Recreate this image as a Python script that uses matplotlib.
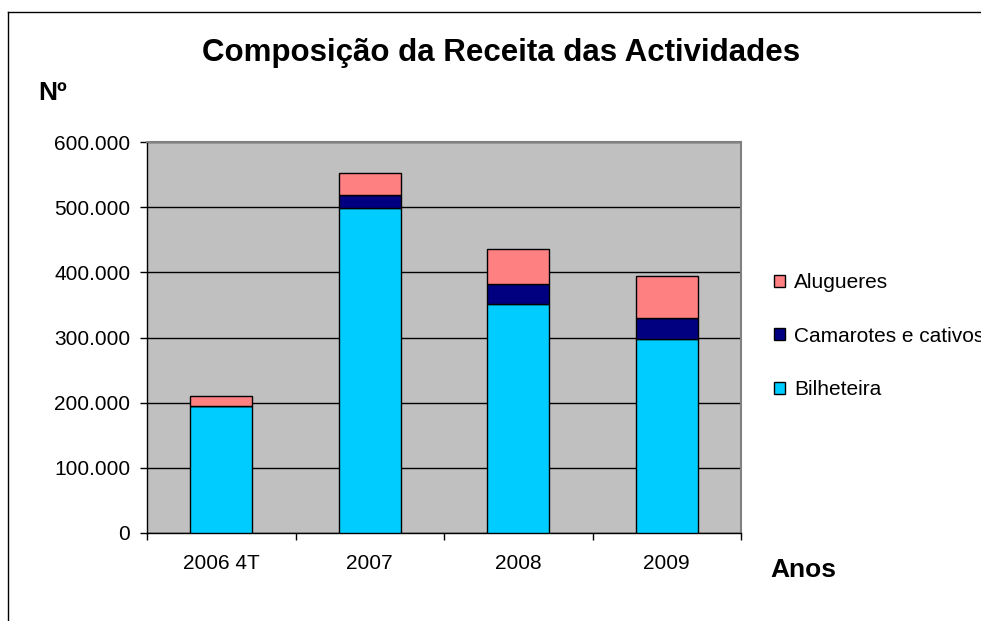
import matplotlib
matplotlib.use("Agg")
import matplotlib.pyplot as plt
from matplotlib.ticker import FuncFormatter, FixedLocator
from matplotlib.lines import Line2D
from matplotlib.patches import Patch
import numpy as np

plt.rcParams['font.family'] = ['Liberation Sans', 'DejaVu Sans']

categories = ["2006 4T", "2007", "2008", "2009"]
bilheteira = [195000, 498000, 351000, 297000]
camarotes = [0, 21000, 30500, 33000]
alugueres = [15000, 33000, 54000, 64000]
series_names = ["Bilheteira", "Camarotes e cativos", "Alugueres"]
colors = ["#00CCFF", "#000080", "#FF8080"]
yticks = [0, 100000, 200000, 300000, 400000, 500000, 600000]

W, H = 981, 621
fig = plt.figure(figsize=(W / 100, H / 100), dpi=100)
fig.patch.set_facecolor("white")

ax = fig.add_axes([147 / W, (H - 533) / H, 594 / W, 391 / H])
ax.set_facecolor("#C0C0C0")

x = np.arange(len(categories))
b = np.array(bilheteira)
c = np.array(camarotes)
a = np.array(alugueres)
bw = 0.42
ax.bar(x, b, bw, color=colors[0], edgecolor="black", linewidth=1, zorder=3)
ax.bar(x, c, bw, bottom=b, color=colors[1], edgecolor="black", linewidth=1, zorder=3)
ax.bar(x, a, bw, bottom=b + c, color=colors[2], edgecolor="black", linewidth=1, zorder=3)

ax.set_xlim(-0.5, len(categories) - 0.5)
ax.set_ylim(0, 600000)
ax.yaxis.set_major_locator(FixedLocator(yticks))
ax.yaxis.set_major_formatter(FuncFormatter(lambda v, p: f"{int(v):,}".replace(",", ".")))
ax.grid(axis="y", color="black", linewidth=1, zorder=1)
ax.set_axisbelow(True)

ax.set_xticks(x)
ax.set_xticklabels(categories)
ax.set_xticks(np.arange(-0.5, len(categories)), minor=True)
ax.tick_params(axis="x", which="major", length=0, pad=15, labelsize=15)
ax.tick_params(axis="x", which="minor", length=5, direction="out", width=1)
ax.tick_params(axis="y", length=5, direction="out", pad=7, labelsize=15, width=1)

for s in ["left", "bottom"]:
    ax.spines[s].set_color("black")
    ax.spines[s].set_linewidth(1)
for s in ["top", "right"]:
    ax.spines[s].set_color("#808080")
    ax.spines[s].set_linewidth(1.5)

fig.text(501 / W, 1 - 53 / H, "Composição da Receita das Actividades",
         ha="center", va="center", fontsize=22.5, fontweight="bold")
fig.text(38 / W, 1 - 93 / H, "Nº", ha="left", va="center", fontsize=19, fontweight="bold")
fig.text(770 / W, 1 - 570 / H, "Anos", ha="left", va="center", fontsize=19, fontweight="bold")

handles = [Patch(facecolor=col, edgecolor="black", linewidth=1) for col in colors]
leg = fig.legend(handles[::-1], series_names[::-1], loc="upper left",
                 bbox_to_anchor=(774 / W, 1 - 273 / H), frameon=False,
                 fontsize=15, handlelength=0.52, handleheight=0.52,
                 handletextpad=0.45, labelspacing=1.66, borderpad=0, borderaxespad=0)

fig.add_artist(Line2D([8 / W, 8 / W], [0, 1 - 12 / H], color="black", linewidth=1))
fig.add_artist(Line2D([8 / W, 1.0], [1 - 12 / H, 1 - 12 / H], color="black", linewidth=1))

fig.savefig("out.png", dpi=100)
